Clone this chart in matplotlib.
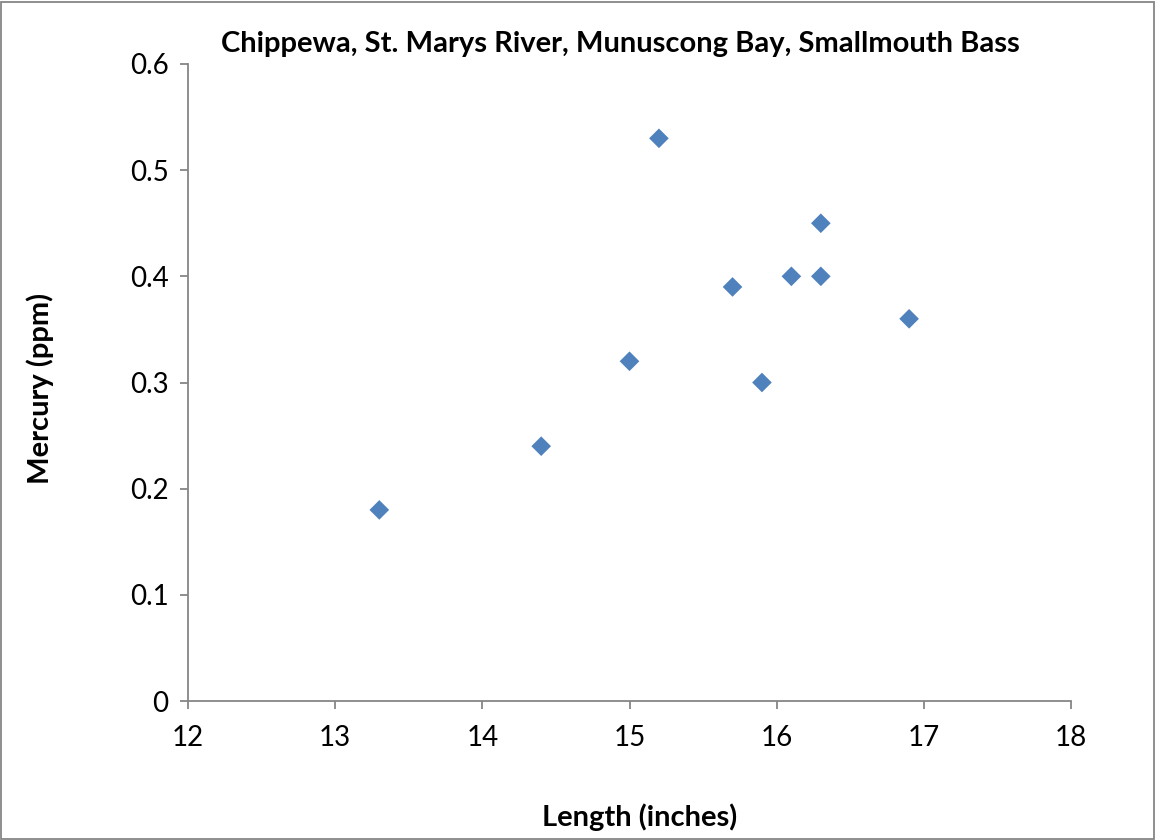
import matplotlib
matplotlib.use("Agg")
import matplotlib.pyplot as plt
from matplotlib.patches import Rectangle

length = [13.3, 14.4, 15.0, 15.2, 15.7, 15.9, 16.1, 16.3, 16.3, 16.9]
mercury = [0.18, 0.24, 0.32, 0.53, 0.39, 0.30, 0.40, 0.45, 0.40, 0.36]
x_ticks = [12, 13, 14, 15, 16, 17, 18]
y_ticks = [0, 0.1, 0.2, 0.3, 0.4, 0.5, 0.6]
title = "Chippewa, St. Marys River, Munuscong Bay, Smallmouth Bass"
xlabel = "Length (inches)"
ylabel = "Mercury (ppm)"

plt.rcParams['font.family'] = ['Lato', 'DejaVu Sans']

fig = plt.figure(figsize=(11.56, 8.4), dpi=100)
ax = fig.add_axes([188/1156, 1 - 701/840, (1071-188)/1156, (701-64)/840])

ax.scatter(length, mercury, marker='D', s=10**2, color='#4F81BD', edgecolors='none', zorder=3)

ax.set_xlim(12, 18)
ax.set_ylim(0, 0.6)
ax.set_xticks(x_ticks)
ax.set_yticks(y_ticks)
ax.set_xticklabels([str(t) for t in x_ticks])
ax.set_yticklabels([("%g" % t) for t in y_ticks])

for s in ['top', 'right']:
    ax.spines[s].set_visible(False)
for s in ['left', 'bottom']:
    ax.spines[s].set_color('#868686')
    ax.spines[s].set_linewidth(1.3)
ax.tick_params(direction='out', length=6, width=1.3, color='#868686', labelsize=20, labelcolor='black')
ax.tick_params(axis='x', pad=11)
ax.tick_params(axis='y', pad=8)

fig.text(620/1156, 1 - 44/840, title, ha='center', va='center', fontsize=21, fontweight='bold')
fig.text(640/1156, 1 - 817/840, xlabel, ha='center', va='center', fontsize=21, fontweight='bold')
fig.text(40/1156, 1 - 388/840, ylabel, ha='center', va='center', fontsize=21, fontweight='bold', rotation=90)

fig.add_artist(Rectangle((1/1156, 1/840), 1 - 3/1156, 1 - 3/840, transform=fig.transFigure,
                         fill=False, edgecolor='#868686', linewidth=1.3))

fig.savefig("out.png", dpi=100)
